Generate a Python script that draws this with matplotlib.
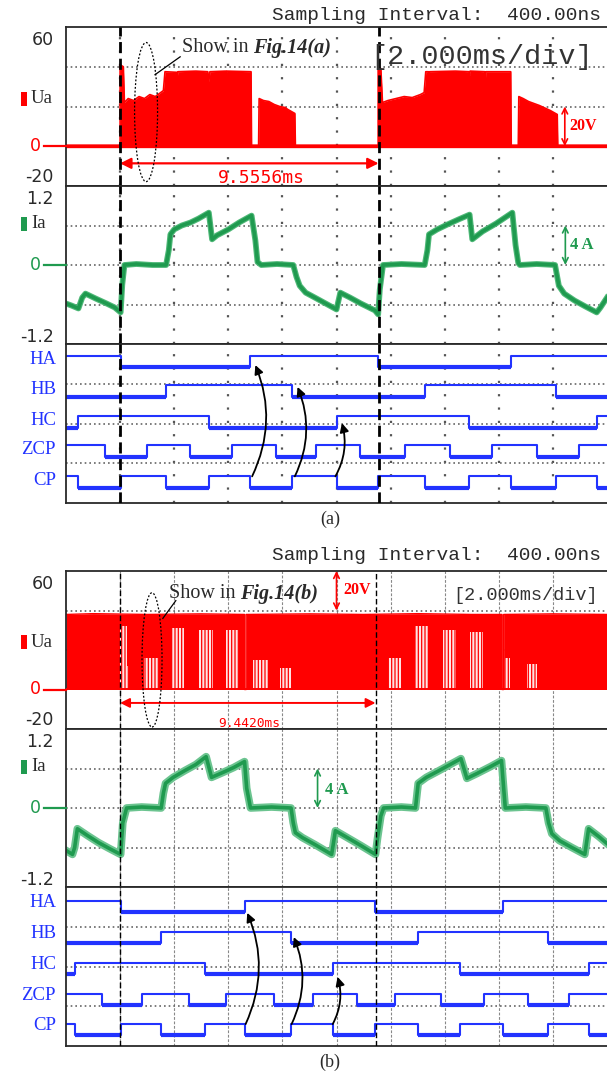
import numpy as np
import matplotlib.pyplot as plt
from matplotlib.patches import Ellipse, Rectangle

W, H, DPI = 607, 1079, 100
RED, GREEN, BLUE, INK = '#ff0000', '#1f9a4f', '#2233ff', '#2a2a2a'
MONO, SERIF = 'Liberation Mono', 'Liberation Serif'
plt.rcParams['hatch.linewidth'] = 0.9

# x axis is in screen divisions (2 ms/div), 10 divisions across
# ---------------- (a) ----------------
ua_a = [(0.00, 0.5), (1.00, 0.5), (1.00, 41), (1.06, 40), (1.08, 22), (1.15, 24),
        (1.25, 23), (1.35, 25), (1.45, 24), (1.55, 26), (1.65, 25), (1.75, 27),
        (1.80, 28), (1.83, 37.5), (2.05, 37.2), (2.06, 35.5), (2.07, 37.5), (2.40, 37.8),
        (2.62, 37.5), (2.64, 32.5), (2.66, 37.5), (2.95, 37.8), (2.96, 36), (2.97, 37.8),
        (3.42, 37.5), (3.43, 0.5), (3.56, 0.5), (3.57, 24), (3.65, 23), (3.75, 22.5),
        (3.85, 21), (3.95, 20), (4.05, 19.5), (4.10, 18.5), (4.23, 16.5), (4.24, 0.5),
        (5.77, 0.5), (5.77, 40), (5.82, 39), (5.85, 22), (5.95, 23), (6.10, 24),
        (6.25, 25), (6.40, 24.5), (6.55, 26), (6.62, 27), (6.65, 37.5), (6.70, 37.5),
        (6.71, 32), (6.72, 37.5), (7.20, 37.8), (7.45, 37.5), (7.46, 35.5), (7.47, 37.8),
        (7.74, 37.5), (7.75, 32.5), (7.76, 37.5), (8.22, 37.5), (8.23, 0.5), (8.36, 0.5),
        (8.37, 25), (8.45, 24), (8.55, 22.5), (8.65, 21.5), (8.75, 20.5), (8.95, 18),
        (9.08, 16), (9.09, 0.5), (10.0, 0.5)]
ia_a = [(0.00, -3.9), (0.10, -4.1), (0.23, -4.4), (0.30, -3.3), (0.36, -2.9), (0.55, -3.4),
        (0.75, -3.9), (0.90, -4.3), (1.01, -4.8), (1.04, -2.0), (1.08, 0.0), (1.30, 0.1),
        (1.60, 0.0), (1.85, 0.0), (1.90, 1.5), (1.93, 3.1), (2.00, 3.6), (2.14, 4.0),
        (2.30, 4.3), (2.45, 4.7), (2.64, 5.3), (2.70, 2.6), (2.79, 3.0), (3.00, 3.6),
        (3.20, 4.3), (3.43, 5.0), (3.50, 2.5), (3.54, 0.3), (3.61, 0.0), (3.90, 0.1),
        (4.20, 0.0), (4.26, -1.2), (4.32, -2.1), (4.43, -2.8), (4.60, -3.3), (4.80, -3.9),
        (5.00, -4.5), (5.07, -2.8), (5.25, -3.3), (5.45, -3.9), (5.71, -4.6), (5.77, -5.0),
        (5.80, -2.5), (5.86, 0.0), (6.20, 0.1), (6.63, 0.0), (6.68, 1.5), (6.71, 3.1),
        (6.86, 3.6), (7.05, 4.1), (7.25, 4.6), (7.46, 5.1), (7.51, 2.6), (7.70, 3.4),
        (7.95, 4.2), (8.25, 5.3), (8.31, 2.0), (8.36, 0.2), (8.39, 0.0), (8.70, 0.1),
        (9.04, 0.0), (9.08, -1.2), (9.11, -2.1), (9.21, -2.9), (9.40, -3.6), (9.60, -4.2),
        (9.81, -4.8), (9.88, -4.3), (10.0, -3.3)]
cursor_a = [1.0, 1.0 + 9.5556 / 2]
ha_a = [1.01, 3.41, 5.77, 8.23]
hb_a = [1.84, 4.18, 6.63, 9.05]
hc_a = [0.23, 2.64, 5.00, 7.45, 9.81]
zcp_a = [0.72, 1.49, 2.30, 3.07, 3.88, 4.63, 5.44, 6.27, 7.09, 7.87, 8.70, 9.48]
cp_a = [0.23, 1.01, 1.84, 2.64, 3.41, 4.18, 5.00, 5.77, 6.63, 7.45, 8.23, 9.05, 9.81]

# ---------------- (b) ----------------
ub_b = [(0.00, 38), (0.50, 38.4), (1.50, 38), (2.50, 38.3), (3.30, 38), (3.30, 0), (3.33, 0),
        (3.33, 38), (4.50, 38.3), (5.50, 38), (6.50, 38.4), (7.50, 38), (8.06, 38),
        (8.06, 0), (8.09, 0), (8.09, 38), (9.00, 38.3), (10.0, 38)]
# chopped intervals: start, end, level the off-state sits at
stripe_b = [(1.00, 1.12, 32), (1.12, 1.17, 12), (1.45, 1.72, 16), (1.96, 2.18, 31),
            (2.46, 2.71, 30), (2.96, 3.20, 30), (3.45, 3.74, 15), (3.95, 4.15, 11),
            (5.95, 6.19, 16), (6.45, 6.69, 32), (6.97, 7.21, 30), (7.47, 7.71, 29),
            (8.12, 8.21, 16), (8.52, 8.71, 13)]
ia_b = [(0.00, -4.3), (0.12, -4.7), (0.16, -4.0), (0.21, -2.1), (0.40, -2.8), (0.60, -3.5),
        (0.80, -4.1), (1.01, -4.7), (1.05, -1.5), (1.12, 0.0), (1.40, 0.1), (1.76, 0.0),
        (1.80, 1.5), (1.84, 2.5), (1.98, 3.1), (2.20, 3.8), (2.40, 4.4), (2.59, 5.2),
        (2.69, 3.1), (2.90, 3.6), (3.10, 4.1), (3.30, 4.7), (3.34, 2.0), (3.41, 0.0),
        (3.80, 0.1), (4.16, 0.0), (4.20, -1.5), (4.24, -2.5), (4.37, -3.0), (4.60, -3.7),
        (4.91, -4.7), (4.98, -2.3), (5.20, -3.0), (5.45, -3.8), (5.72, -4.7), (5.76, -3.0),
        (5.82, -0.8), (5.87, 0.0), (6.20, 0.1), (6.46, 0.0), (6.51, 2.5), (6.66, 3.1),
        (6.90, 3.8), (7.10, 4.4), (7.30, 5.0), (7.41, 3.0), (7.60, 3.5), (7.85, 4.2),
        (8.05, 4.8), (8.09, 2.0), (8.12, 0.0), (8.50, 0.1), (8.87, 0.0), (8.92, -1.5),
        (8.98, -2.6), (9.12, -3.3), (9.35, -4.0), (9.59, -4.7), (9.66, -2.1), (9.85, -2.9),
        (10.0, -3.6)]
cursor_b = [1.0, 1.0 + 9.4420 / 2]
ha_b = [1.01, 3.31, 5.72, 8.07]
hb_b = [1.76, 4.16, 6.51, 8.91]
hc_b = [0.16, 2.57, 4.94, 7.29, 9.67]
zcp_b = [0.67, 1.41, 2.28, 2.96, 3.84, 4.56, 5.37, 6.09, 6.94, 7.73, 8.54, 9.30]
cp_b = [0.16, 1.01, 1.76, 2.57, 3.31, 4.16, 4.94, 5.72, 6.51, 7.29, 8.07, 8.91, 9.67]

ch_names = ['HA', 'HB', 'HC', 'ZCP', 'CP']
ch_start = [1, 0, 0, 1, 1]

fig = plt.figure(figsize=(W / DPI, H / DPI), dpi=DPI)


def ftext(px, py, s, **kw):
    return fig.text(px / W, 1 - py / H, s, **kw)


def frect(x0, y0, x1, y1, color):
    fig.patches.append(Rectangle((x0 / W, 1 - y1 / H), (x1 - x0) / W, (y1 - y0) / H,
                                 transform=fig.transFigure, color=color, lw=0))


def fline(x0, x1, py, color):
    fig.add_artist(plt.Line2D([x0 / W, x1 / W], [1 - py / H] * 2,
                              transform=fig.transFigure, color=color, lw=1.6))


def box(top, bottom, ylim, hgrid, vgrid_kw, hgrid_kw):
    ax = fig.add_axes([66 / W, 1 - bottom / H, 541 / W, (bottom - top) / H])
    ax.set_xlim(0, 10)
    ax.set_ylim(*ylim)
    ax.set_xticks([])
    ax.set_yticks([])
    for s in ['top', 'bottom', 'left']:
        ax.spines[s].set_color(INK)
        ax.spines[s].set_linewidth(1.3)
    ax.spines['right'].set_visible(False)
    for x in range(1, 10):
        ax.axvline(x, zorder=0, **vgrid_kw)
    for y in hgrid:
        ax.axhline(y, zorder=0, **hgrid_kw)
    return ax


def logic(ax, edges_list, lows, swing):
    for edges, start, low in zip(edges_list, ch_start, lows):
        xs, ys, lv = [0], [start], start
        for e in edges:
            xs += [e, e]
            ys += [lv, 1 - lv]
            lv = 1 - lv
        xs.append(10)
        ys.append(lv)
        ax.plot(xs, low + swing * np.array(ys), color=BLUE, lw=1.5)
        bounds, lv = [0] + edges + [10], start
        for a, b in zip(bounds[:-1], bounds[1:]):
            if lv == 0:
                ax.plot([a, b], [low, low], color=BLUE, lw=3.0, solid_capstyle='butt')
            lv = 1 - lv


def curved(ax, x0, y0, x1, y1, rad):
    ax.annotate('', xy=(x1, y1), xytext=(x0, y0),
                arrowprops=dict(arrowstyle='-|>', color='k', lw=1.3, mutation_scale=13,
                                shrinkA=0, shrinkB=0,
                                connectionstyle=f'arc3,rad={rad}'))


def vspan_arrow(ax, x, y0, y1, color):
    ax.annotate('', xy=(x, y1), xytext=(x, y0),
                arrowprops=dict(arrowstyle='<->', color=color, lw=1.2, mutation_scale=10,
                                shrinkA=0, shrinkB=0))


def panel(top, ua_top, ia_top, dig_top, dig_bot, label, fine):
    if fine:
        vkw = dict(color='#888888', lw=0.8, ls=(0, (2.5, 1.5)))
    else:
        vkw = dict(color='#555555', lw=1.6, ls=(0, (1.0, 5.0)))
    hkw = dict(color='#666666', lw=1.2, ls=(0, (1.0, 1.8)))
    axu = box(ua_top, ia_top, (-20, 60), [20, 40], vkw, hkw)
    axi = box(ia_top, dig_top, (-8, 8), [-4, 0, 4], vkw, hkw)
    axd = box(dig_top, dig_bot, (0, 4), [1, 2, 3], vkw, hkw)

    # axis annotations on the left
    pu = lambda v: ua_top + (60 - v) * (ia_top - ua_top) / 80
    pi = lambda v: ia_top + (8 - v) * (dig_top - ia_top) / 16
    tk = dict(fontsize=12.5, color=INK, ha='right', va='center', family='DejaVu Sans')
    ftext(54, pu(60) + 13, '60', **tk)
    ftext(54, pu(-20) - 9, '-20', **tk)
    ftext(54, pi(8) + 13, '1.2', **tk)
    ftext(54, pi(-8) - 7, '-1.2', **tk)
    ftext(41, pu(0), '0', **{**tk, 'color': RED})
    fline(44, 66, pu(0), RED)
    ftext(41, pi(0), '0', **{**tk, 'color': GREEN})
    fline(44, 66, pi(0), GREEN)
    mid_u = pu(24)
    frect(21, mid_u - 7, 27, mid_u + 7, RED)
    ftext(31, mid_u, 'Ua', fontsize=13.5, family=SERIF, color=INK, va='center')
    mid_i = pi(4.2)
    frect(21, mid_i - 7, 27, mid_i + 7, GREEN)
    ftext(31, mid_i, 'Ia', fontsize=13.5, family=SERIF, color=INK, va='center')
    ftext(272, top, 'Sampling Interval:  400.00ns', fontsize=14, family=MONO,
          color=INK, va='center')
    ftext(330, dig_bot + 16, label, fontsize=13, family=SERIF, color=INK,
          ha='center', va='center')
    return axu, axi, axd


def cursors(axes, xs, lw, ls):
    for ax in axes:
        for x in xs:
            ax.axvline(x, color='k', lw=lw, ls=ls, zorder=4)


# =============== panel (a) ===============
axu, axi, axd = panel(15, 27, 186, 344, 503, '(a)', fine=False)
t, v = np.array(ua_a).T
axu.fill_between(t, 0, v, color=RED, lw=0, zorder=2)
axu.plot(t, v, color=RED, lw=1.2, zorder=2)
axu.plot([0, 10], [0.3, 0.3], color=RED, lw=2.4, zorder=2)
t, i = np.array(ia_a).T
axi.plot(t, i, color='#4fb878', lw=4.2, zorder=2)
axi.plot(t, i, color=GREEN, lw=2.6, zorder=2)
lows_a = [3.42, 2.67, 1.89, 1.16, 0.38]
logic(axd, [ha_a, hb_a, hc_a, zcp_a, cp_a], lows_a, 0.29)
cursors([axu, axi, axd], cursor_a, 2.0, (0, (4, 2)))

for name, low in zip(ch_names, lows_a):
    ftext(56, 503 - (low + 0.18) * 159 / 4, name, fontsize=13.5, family=SERIF,
          color=BLUE, ha='right', va='center')

cp_hi = lows_a[4] + 0.29
curved(axd, ha_a[1] + 0.03, cp_hi, ha_a[1] + 0.09, lows_a[0] + 0.05, 0.22)
curved(axd, hb_a[1] + 0.05, cp_hi, hb_a[1] + 0.10, lows_a[1] + 0.25, 0.22)
curved(axd, hc_a[2] - 0.02, cp_hi, hc_a[2] + 0.10, lows_a[2] + 0.12, 0.2)

axu.annotate('', xy=(cursor_a[0], -8.6), xytext=(cursor_a[1], -8.6),
             arrowprops=dict(arrowstyle='<|-|>', color=RED, lw=1.6, mutation_scale=16,
                             shrinkA=0, shrinkB=0))
axu.text(3.62, -16.2, '9.5556ms', color=RED, fontsize=13, family='DejaVu Sans Mono',
         ha='center', va='center')
vspan_arrow(axu, 9.22, 0, 20, RED)
axu.text(9.3, 10, '20V', color=RED, fontsize=11.5, family=SERIF, weight='bold',
         va='center')
vspan_arrow(axi, 9.23, 0, 4, GREEN)
axi.text(9.32, 2.0, '4 A', color=GREEN, fontsize=12, family=SERIF, weight='bold',
         va='center')
axu.add_patch(Ellipse((1.48, 17.2), 0.425, 70, fill=False, ec='k', lw=0.9,
                      ls=(0, (1.5, 1.5)), zorder=5))
axu.plot([2.11, 1.645], [45, 36], color='k', lw=0.9, zorder=5)
ftext(370, 57, '[2.000ms/div]', fontsize=20.5, family=MONO, color='#333333',
      va='center')
s1 = axu.text(2.14, 49.5, 'Show in ', fontsize=14.5, family=SERIF, color=INK,
              va='center')
axu.annotate('Fig.14(a)', xy=(1, 0.5), xycoords=s1, va='center', fontsize=14.5,
             family=SERIF, weight='bold', style='italic', color=INK)

# =============== panel (b) ===============
axu, axi, axd = panel(555, 571, 729, 887, 1046, '(b)', fine=True)
t, v = np.array(ub_b).T
axu.fill_between(t, 0, v, color=RED, lw=0, zorder=2)
axu.plot(t, v, color=RED, lw=1.0, zorder=2)
for a, b, lvl in stripe_b:
    axu.add_patch(Rectangle((a, 0), b - a, lvl, facecolor='#ffe2e2', edgecolor=RED,
                            hatch='|||||', lw=0, zorder=3))
axu.plot([0, 10], [0.2, 0.2], color=RED, lw=1.4, zorder=3)
t, i = np.array(ia_b).T
axi.plot(t, i, color='#6cc490', lw=5.5, zorder=2)
axi.plot(t, i, color=GREEN, lw=2.6, zorder=2)
lows_b = [3.37, 2.59, 1.81, 1.03, 0.28]
logic(axd, [ha_b, hb_b, hc_b, zcp_b, cp_b], lows_b, 0.27)
cursors([axu, axi, axd], cursor_b, 1.0, (0, (4, 2)))

for name, low in zip(ch_names, lows_b):
    ftext(56, 1046 - (low + 0.24) * 159 / 4, name, fontsize=13.5, family=SERIF,
          color=BLUE, ha='right', va='center')

cp_hi = lows_b[4] + 0.27
curved(axd, ha_b[1] + 0.01, cp_hi, ha_b[1] + 0.04, lows_b[0] - 0.02, 0.22)
curved(axd, hb_b[1] + 0.01, cp_hi, hb_b[1] + 0.05, lows_b[1] + 0.15, 0.22)
curved(axd, hc_b[2] - 0.01, cp_hi, hc_b[2] + 0.08, lows_b[2] - 0.07, 0.2)

axu.annotate('', xy=(cursor_b[0], -6.8), xytext=(cursor_b[1], -6.8),
             arrowprops=dict(arrowstyle='<|-|>', color=RED, lw=1.4, mutation_scale=14,
                             shrinkA=0, shrinkB=0))
axu.text(3.38, -17, '9.4420ms', color=RED, fontsize=9.3, family='DejaVu Sans Mono',
         ha='center', va='center')
vspan_arrow(axu, 5.0, 40, 60, RED)
axu.text(5.12, 50.4, '20V', color=RED, fontsize=11.5, family=SERIF, weight='bold',
         va='center')
vspan_arrow(axi, 4.65, 0, 4, GREEN)
axi.text(4.79, 1.8, '4 A', color=GREEN, fontsize=12, family=SERIF, weight='bold',
         va='center')
axu.add_patch(Ellipse((1.59, 15), 0.37, 68, fill=False, ec='k', lw=0.9,
                      ls=(0, (1.5, 1.5)), zorder=5))
axu.plot([2.03, 1.79], [45, 36], color='k', lw=0.9, zorder=5)
ftext(453, 595, '[2.000ms/div]', fontsize=13.4, family=MONO, color='#333333',
      va='center')
s1 = axu.text(1.9, 48.5, 'Show in ', fontsize=14.5, family=SERIF, color=INK,
              va='center', zorder=6)
axu.annotate('Fig.14(b)', xy=(1, 0.5), xycoords=s1, va='center', fontsize=14.5,
             family=SERIF, weight='bold', style='italic', color=INK, zorder=6)

fig.savefig('out.png', dpi=DPI)
